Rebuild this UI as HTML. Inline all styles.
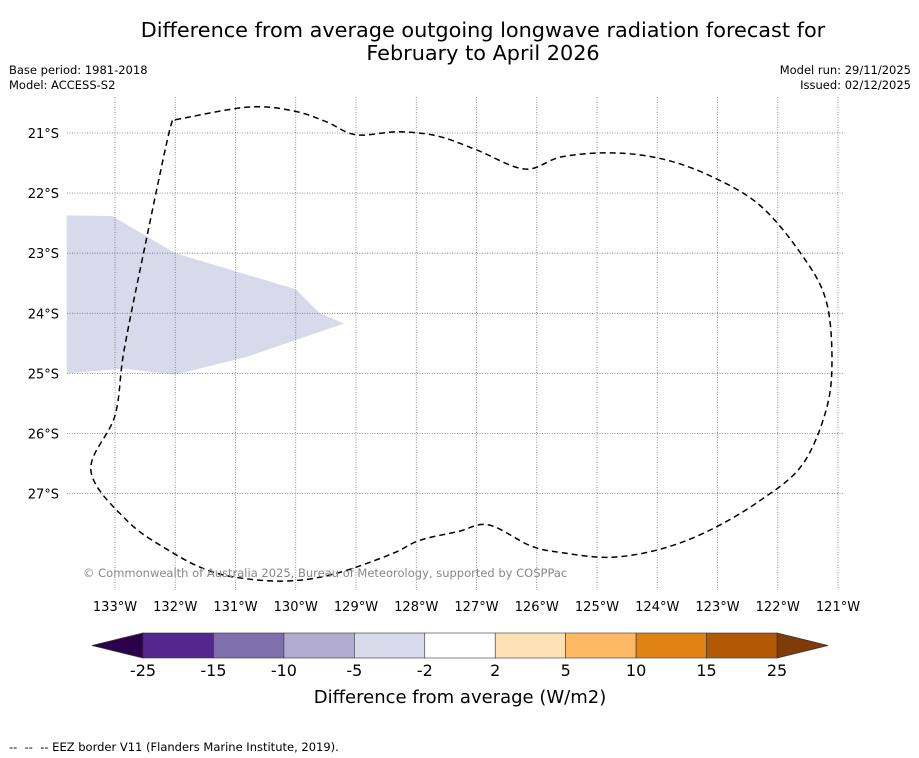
<!DOCTYPE html>
<html><head><meta charset="utf-8"><style>
body{margin:0;background:#fff;font-family:"Liberation Sans","DejaVu Sans",sans-serif}
#wrap{position:relative;width:919px;height:758px;overflow:hidden}
.t{position:absolute;color:#000}
</style></head><body>
<div id="wrap">
<div class="t" style="left:0;width:966px;top:19px;text-align:center;font-size:20.8px;line-height:23px;font-family:'DejaVu Sans',sans-serif">Difference from average outgoing longwave radiation forecast for<br>February to April 2026</div>
<div class="t" style="left:9px;top:63px;font-size:11.5px;line-height:15px;font-family:'DejaVu Sans',sans-serif">Base period: 1981-2018<br>Model: ACCESS-S2</div>
<div class="t" style="right:8px;top:63px;font-size:11.5px;line-height:15px;text-align:right;font-family:'DejaVu Sans',sans-serif">Model run: 29/11/2025<br>Issued: 02/12/2025</div>
<div class="t" style="left:9px;top:740px;font-size:11.5px;font-family:'DejaVu Sans',sans-serif">--&nbsp; --&nbsp; -- EEZ border V11 (Flanders Marine Institute, 2019).</div>
<svg id="svg" width="919" height="758" style="position:absolute;left:0;top:0" font-family="DejaVu Sans, sans-serif"></svg>
</div>
<script>
const lonTicks=[-133,-132,-131,-130,-129,-128,-127,-126,-125,-124,-123,-122,-121];
const latTicks=[-21,-22,-23,-24,-25,-26,-27];
const levels=[-25,-15,-10,-5,-2,2,5,10,15,25];
const colors=['#54278f','#7f6fab','#b1aad1','#d8d9ea','#ffffff','#fee0b6','#fdb863','#e08214','#b35806'];
const anomLon=[-133.8,-133.05,-132.0,-130.0,-129.6,-129.2,-130.8,-132.0,-132.85,-133.8];
const anomLat=[-22.37,-22.38,-23.0,-23.6,-24.0,-24.17,-24.72,-25.02,-24.92,-25.0];
const eezLon=[-132.0,-130.8,-130.05,-129.5,-129.0,-128.3,-127.65,-127.0,-126.2,-125.6,-124.8,-123.97,-123.15,-122.3,-121.6,-121.2,-121.1,-121.2,-121.6,-122.3,-123.15,-123.97,-124.8,-125.6,-126.1,-126.8,-127.3,-127.95,-128.4,-129.3,-130.05,-130.8,-131.45,-132.1,-132.8,-133.4,-133.0,-132.85,-132.5,-132.1,-132.0];
const eezLat=[-20.78,-20.57,-20.63,-20.81,-21.03,-20.98,-21.05,-21.28,-21.6,-21.4,-21.33,-21.42,-21.7,-22.2,-23.03,-23.78,-24.78,-25.62,-26.53,-27.12,-27.62,-27.93,-28.06,-27.98,-27.87,-27.52,-27.63,-27.78,-28.0,-28.32,-28.45,-28.42,-28.28,-27.95,-27.45,-26.62,-25.7,-24.62,-22.87,-20.98,-20.78];
const NS='http://www.w3.org/2000/svg';
const svg=document.getElementById('svg');
const X=l=>115+(l+133)*60.25, Y=l=>133+(-21-l)*60.1;
function mk(t,a,p){const e=document.createElementNS(NS,t);for(const k in a)e.setAttribute(k,a[k]);(p||svg).appendChild(e);return e;}
const g=mk('g',{});


let pts=anomLon.map((v,i)=>X(v)+','+Y(anomLat[i])).join(' ');
const poly=mk('polygon',{points:pts,fill:'#d8d9ea'},g);


lonTicks.forEach(l=>{
 const ln=mk('line',{x1:X(l),x2:X(l),y1:97,y2:590,stroke:'#777','stroke-width':0.8,'stroke-dasharray':'1,1.5'},g);
 
 
 const tx=mk('text',{x:X(l),y:611,'font-size':13,'text-anchor':'middle'},g);
 tx.textContent=Math.abs(l)+'°W';
 
 
});
latTicks.forEach(l=>{
 const ln=mk('line',{x1:67,x2:843,y1:Y(l),y2:Y(l),stroke:'#777','stroke-width':0.8,'stroke-dasharray':'1,1.5'},g);
 
 
 const tx=mk('text',{x:59,y:Y(l)+5,'font-size':13,'text-anchor':'end'},g);
 tx.textContent=Math.abs(l)+'°S';
 
 
});
// smooth closed curve via Catmull-Rom
const P=eezLon.map((v,i)=>[X(v),Y(eezLat[i])]);
let d='M'+P[0][0]+','+P[0][1];
for(let i=0;i<P.length-1;i++){
 const p0=P[Math.max(i-1,0)],p1=P[i],p2=P[i+1],p3=P[Math.min(i+2,P.length-1)];
 d+=` C${p1[0]+(p2[0]-p0[0])/6},${p1[1]+(p2[1]-p0[1])/6} ${p2[0]-(p3[0]-p1[0])/6},${p2[1]-(p3[1]-p1[1])/6} ${p2[0]},${p2[1]}`;
}
const eez=mk('path',{d:d,fill:'none',stroke:'#000','stroke-width':1.5,'stroke-dasharray':'6,4','stroke-linejoin':'round'},g);


const cp=mk('text',{x:83,y:577,'font-size':11.5,fill:'#888'},g);
cp.textContent='© Commonwealth of Australia 2025, Bureau of Meteorology, supported by COSPPac';


const cb=mk('g',{});


const cx0=143,cw=(777-143)/(levels.length-1),cy=633,ch=25;
const la=mk('polygon',{points:`${cx0},${cy} ${cx0},${cy+ch} 92,${cy+ch/2}`,fill:'#2d004b',stroke:'#333','stroke-width':0.8},cb);


const ra=mk('polygon',{points:`777,${cy} 777,${cy+ch} 828,${cy+ch/2}`,fill:'#7f3b08',stroke:'#333','stroke-width':0.8},cb);


colors.forEach((c,i)=>{
 const r=mk('rect',{x:cx0+i*cw,y:cy,width:cw,height:ch,fill:c,stroke:'#333','stroke-width':0.6},cb);
 
 
});
levels.forEach((v,i)=>{
 const t=mk('text',{x:cx0+i*cw,y:676,'font-size':16,'text-anchor':'middle'},cb);
 t.textContent=v;
 
 
});
const ct=mk('text',{x:460,y:703,'font-size':18,'text-anchor':'middle'},cb);
ct.textContent='Difference from average (W/m2)';


</script>
</body></html>
